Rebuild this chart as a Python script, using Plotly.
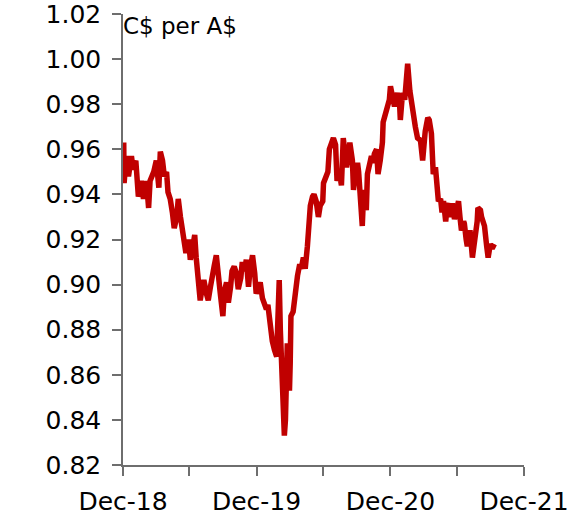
import plotly.graph_objects as go

# Daily C$ per A$ exchange rate
dates = [
    "2019-01-02", "2019-01-03", "2019-01-09", "2019-01-15", "2019-01-23", "2019-01-28", "2019-02-04", "2019-02-11",
    "2019-02-19", "2019-02-25", "2019-03-05", "2019-03-11", "2019-03-15", "2019-03-25", "2019-04-01", "2019-04-08",
    "2019-04-12", "2019-04-18", "2019-04-23", "2019-04-29", "2019-05-03", "2019-05-09", "2019-05-15", "2019-05-20",
    "2019-05-27", "2019-05-31", "2019-06-06", "2019-06-11", "2019-06-17", "2019-06-21", "2019-06-28", "2019-07-03",
    "2019-07-09", "2019-07-15", "2019-07-19", "2019-07-25", "2019-07-30", "2019-08-05", "2019-08-09", "2019-08-16",
    "2019-08-21", "2019-08-27", "2019-09-02", "2019-09-06", "2019-09-12", "2019-09-18", "2019-09-23", "2019-09-30",
    "2019-10-04", "2019-10-10", "2019-10-15", "2019-10-21", "2019-10-25", "2019-10-31", "2019-11-06", "2019-11-11",
    "2019-11-18", "2019-11-22", "2019-11-28", "2019-12-03", "2019-12-09", "2019-12-13", "2019-12-20", "2019-12-26",
    "2019-12-30", "2020-01-06", "2020-01-10", "2020-01-16", "2020-01-21", "2020-01-27", "2020-01-31", "2020-02-07",
    "2020-02-12", "2020-02-18", "2020-02-24", "2020-02-26", "2020-03-02", "2020-03-05", "2020-03-09", "2020-03-13",
    "2020-03-16", "2020-03-19", "2020-03-20", "2020-03-24", "2020-03-27", "2020-03-30", "2020-04-01", "2020-04-03",
    "2020-04-09", "2020-04-15", "2020-04-21", "2020-04-27", "2020-05-01", "2020-05-07", "2020-05-12", "2020-05-18",
    "2020-05-22", "2020-05-26", "2020-06-01", "2020-06-05", "2020-06-11", "2020-06-17", "2020-06-22", "2020-06-29",
    "2020-07-01", "2020-07-06", "2020-07-13", "2020-07-17", "2020-07-22", "2020-07-28", "2020-08-03", "2020-08-07",
    "2020-08-13", "2020-08-19", "2020-08-24", "2020-08-31", "2020-09-02", "2020-09-07", "2020-09-11", "2020-09-18",
    "2020-09-21", "2020-09-25", "2020-10-02", "2020-10-05", "2020-10-09", "2020-10-15", "2020-10-19", "2020-10-23",
    "2020-10-26", "2020-10-29", "2020-11-03", "2020-11-09", "2020-11-13", "2020-11-17", "2020-11-23", "2020-11-27",
    "2020-12-03", "2020-12-09", "2020-12-11", "2020-12-17", "2020-12-23", "2020-12-28", "2020-12-31", "2021-01-05",
    "2021-01-11", "2021-01-15", "2021-01-19", "2021-01-25", "2021-01-27", "2021-02-02", "2021-02-08", "2021-02-12",
    "2021-02-16", "2021-02-22", "2021-02-26", "2021-03-04", "2021-03-09", "2021-03-15", "2021-03-23", "2021-03-29",
    "2021-03-31", "2021-04-05", "2021-04-12", "2021-04-16", "2021-04-22", "2021-04-27", "2021-05-03", "2021-05-07",
    "2021-05-11", "2021-05-17", "2021-05-21", "2021-05-25", "2021-05-31", "2021-06-04", "2021-06-07", "2021-06-14",
    "2021-06-18", "2021-06-24", "2021-06-29", "2021-07-05", "2021-07-09", "2021-07-13", "2021-07-19", "2021-07-21",
    "2021-07-26", "2021-07-29", "2021-08-04", "2021-08-06", "2021-08-12", "2021-08-17", "2021-08-20", "2021-08-25",
    "2021-08-27", "2021-09-03", "2021-09-06", "2021-09-10", "2021-09-14", "2021-09-20", "2021-09-24", "2021-09-30",
    "2021-10-05", "2021-10-11",
]
rates = [
    0.963, 0.945, 0.957, 0.948, 0.957, 0.951, 0.955, 0.939,
    0.946, 0.938, 0.946, 0.934, 0.946, 0.950, 0.955, 0.943,
    0.959, 0.955, 0.948, 0.950, 0.941, 0.938, 0.932, 0.925,
    0.930, 0.938, 0.930, 0.924, 0.918, 0.914, 0.920, 0.911,
    0.916, 0.922, 0.912, 0.902, 0.893, 0.899, 0.902, 0.896,
    0.893, 0.899, 0.903, 0.908, 0.913, 0.900, 0.896, 0.886,
    0.897, 0.901, 0.892, 0.899, 0.906, 0.908, 0.905, 0.898,
    0.903, 0.910, 0.906, 0.911, 0.899, 0.906, 0.913, 0.905,
    0.896, 0.899, 0.901, 0.894, 0.891, 0.889, 0.891, 0.881,
    0.875, 0.871, 0.868, 0.878, 0.902, 0.880, 0.855, 0.838,
    0.833, 0.840, 0.848, 0.874, 0.862, 0.853, 0.865, 0.886,
    0.888, 0.897, 0.904, 0.909, 0.907, 0.912, 0.907, 0.917,
    0.930, 0.935, 0.939, 0.940, 0.937, 0.930, 0.935, 0.937,
    0.945, 0.947, 0.950, 0.960, 0.962, 0.965, 0.962, 0.946,
    0.950, 0.944, 0.965, 0.955, 0.952, 0.958, 0.963, 0.955,
    0.942, 0.948, 0.954, 0.950, 0.941, 0.926, 0.942, 0.938,
    0.933, 0.949, 0.952, 0.957, 0.954, 0.958, 0.960, 0.949,
    0.955, 0.963, 0.972, 0.975, 0.979, 0.982, 0.988, 0.983,
    0.979, 0.982, 0.985, 0.980, 0.973, 0.985, 0.982, 0.990,
    0.998, 0.986, 0.981, 0.976, 0.970, 0.965, 0.964, 0.955,
    0.963, 0.968, 0.974, 0.973, 0.967, 0.949, 0.952, 0.943,
    0.937, 0.938, 0.932, 0.937, 0.928, 0.935, 0.936, 0.930,
    0.936, 0.929, 0.934, 0.937, 0.930, 0.924, 0.928, 0.927,
    0.920, 0.917, 0.923, 0.923, 0.912, 0.918, 0.920, 0.928,
    0.934, 0.933, 0.930, 0.927, 0.926, 0.917, 0.912, 0.918,
    0.916, 0.918,
]

x_tick_vals = ["2018-12-31", "2019-06-30", "2019-12-31", "2020-06-30",
               "2020-12-31", "2021-06-30", "2021-12-31"]
x_tick_text = ["Dec-18", "", "Dec-19", "", "Dec-20", "", "Dec-21"]
y_tick_vals = [0.82, 0.84, 0.86, 0.88, 0.90, 0.92, 0.94, 0.96, 0.98, 1.00, 1.02]
unit_label = "C$ per A$"

FONT = "DejaVu Sans"
AXIS_COLOR = "#6e6e6e"

fig = go.Figure()
fig.add_trace(go.Scatter(
    x=dates, y=rates, mode="lines",
    line=dict(color="#C00000", width=5.5),
    showlegend=False, hoverinfo="x+y",
))

fig.update_layout(
    width=570, height=527,
    margin=dict(l=123, r=46, t=14, b=62, autoexpand=False),
    paper_bgcolor="white", plot_bgcolor="white",
    font=dict(family=FONT, size=24, color="black"),
    annotations=[dict(
        text=unit_label, xref="paper", yref="paper", x=0.0, y=1.0,
        xanchor="left", yanchor="top", showarrow=False,
        font=dict(family=FONT, size=23, color="black"),
        xshift=-2, yshift=3,
    )],
)
fig.update_xaxes(
    type="date", range=["2018-12-31", "2021-12-31"], automargin=False,
    tickmode="array", tickvals=x_tick_vals, ticktext=x_tick_text,
    ticks="outside", ticklen=9, tickwidth=1.5, tickcolor=AXIS_COLOR,
    showline=True, linecolor=AXIS_COLOR, linewidth=1.5,
    showgrid=False, zeroline=False, ticklabeloverflow="allow",
    tickfont=dict(family=FONT, size=25, color="black"),
    ticklabelstandoff=4,
)
fig.update_yaxes(
    range=[0.82, 1.02], automargin=False,
    tickmode="array", tickvals=y_tick_vals, tickformat=".2f",
    ticks="outside", ticklen=9, tickwidth=1.5, tickcolor=AXIS_COLOR,
    showline=True, linecolor=AXIS_COLOR, linewidth=1.5,
    showgrid=False, zeroline=False, ticklabeloverflow="allow",
    tickfont=dict(family=FONT, size=25, color="black"),
    ticklabelstandoff=6,
)

fig.write_html(
    "out.html",
    config={"displayModeBar": False},
    post_script="document.body.style.margin='0';document.body.style.overflow='hidden';",
)
